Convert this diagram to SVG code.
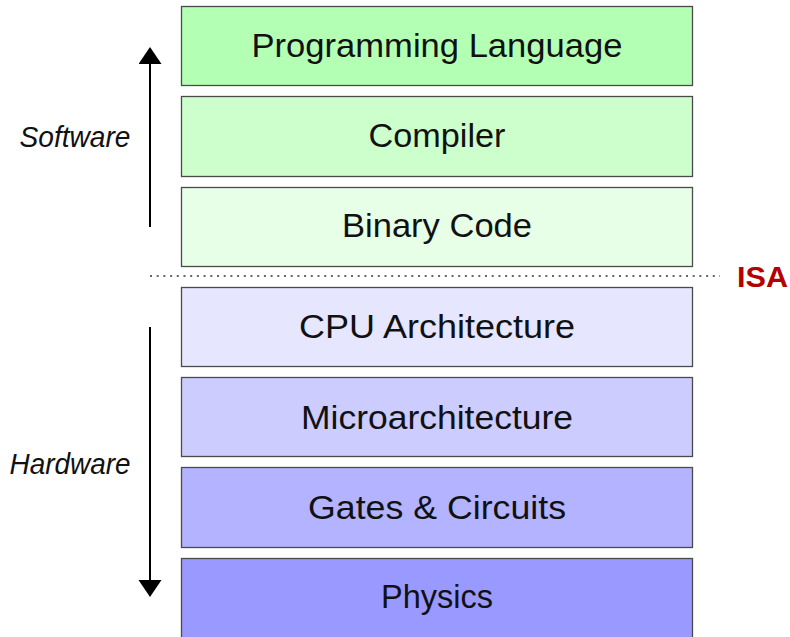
<svg xmlns="http://www.w3.org/2000/svg" width="790" height="637" viewBox="0 0 790 637">
  <style>
    .box { stroke: #4a4a4a; stroke-width: 1.3; }
    .lbl { font-family: "Liberation Sans", Arial, sans-serif; font-size: 34px; fill: #111; text-anchor: middle; }
    .side { font-family: "Liberation Sans", Arial, sans-serif; font-size: 29px; font-style: italic; fill: #111; text-anchor: middle; }
    .isa { font-family: "Liberation Sans", Arial, sans-serif; font-size: 30px; font-weight: bold; fill: #b30000; }
    .arr { stroke: #000; stroke-width: 2; fill: none; }
  </style>
  <defs>
    <marker id="head" markerUnits="userSpaceOnUse" markerWidth="18" markerHeight="24" viewBox="0 0 18 24" refX="1" refY="11.5" orient="auto">
      <path d="M0,0 L17,11.5 L0,23 Z" fill="#000"/>
    </marker>
  </defs>
  <rect width="790" height="637" fill="#fff"/>

  <g id="n-programming">
    <rect class="box" x="181.5" y="6.5" width="511" height="79" fill="#b3ffb3"/>
    <text class="lbl" x="437" y="57" textLength="371" lengthAdjust="spacingAndGlyphs">Programming Language</text>
  </g>
  <g id="n-compiler">
    <rect class="box" x="181.5" y="96.5" width="511" height="80" fill="#ccffcc"/>
    <text class="lbl" x="437" y="147" textLength="137" lengthAdjust="spacingAndGlyphs">Compiler</text>
  </g>
  <g id="n-binary">
    <rect class="box" x="181.5" y="187.5" width="511" height="79" fill="#e6ffe6"/>
    <text class="lbl" x="437" y="237" textLength="190" lengthAdjust="spacingAndGlyphs">Binary Code</text>
  </g>
  <g id="n-cpu">
    <rect class="box" x="181.5" y="287.5" width="511" height="79" fill="#e6e6ff"/>
    <text class="lbl" x="437" y="338" textLength="276" lengthAdjust="spacingAndGlyphs">CPU Architecture</text>
  </g>
  <g id="n-micro">
    <rect class="box" x="181.5" y="377.5" width="511" height="79" fill="#ccccff"/>
    <text class="lbl" x="437" y="429" textLength="272" lengthAdjust="spacingAndGlyphs">Microarchitecture</text>
  </g>
  <g id="n-gates">
    <rect class="box" x="181.5" y="467.5" width="511" height="80" fill="#b3b3ff"/>
    <text class="lbl" x="437" y="519" textLength="258" lengthAdjust="spacingAndGlyphs">Gates &amp; Circuits</text>
  </g>
  <g id="n-physics">
    <rect class="box" x="181.5" y="558.5" width="511" height="80" fill="#9999ff"/>
    <text class="lbl" x="437" y="608" textLength="112" lengthAdjust="spacingAndGlyphs">Physics</text>
  </g>

  <g id="isa">
    <line x1="150" y1="276" x2="720" y2="276" stroke="#666" stroke-width="2.2" stroke-dasharray="2 4.7"/>
    <text class="isa" x="737" y="287" textLength="51" lengthAdjust="spacingAndGlyphs">ISA</text>
  </g>

  <g id="connectors">
    <line class="arr" x1="150" y1="227" x2="150" y2="63" marker-end="url(#head)"/>
    <line class="arr" x1="150" y1="327" x2="150" y2="581" marker-end="url(#head)"/>
  </g>

  <g id="side-labels">
    <text class="side" x="75" y="147" textLength="111" lengthAdjust="spacingAndGlyphs">Software</text>
    <text class="side" x="70" y="474" textLength="121" lengthAdjust="spacingAndGlyphs">Hardware</text>
  </g>
</svg>
